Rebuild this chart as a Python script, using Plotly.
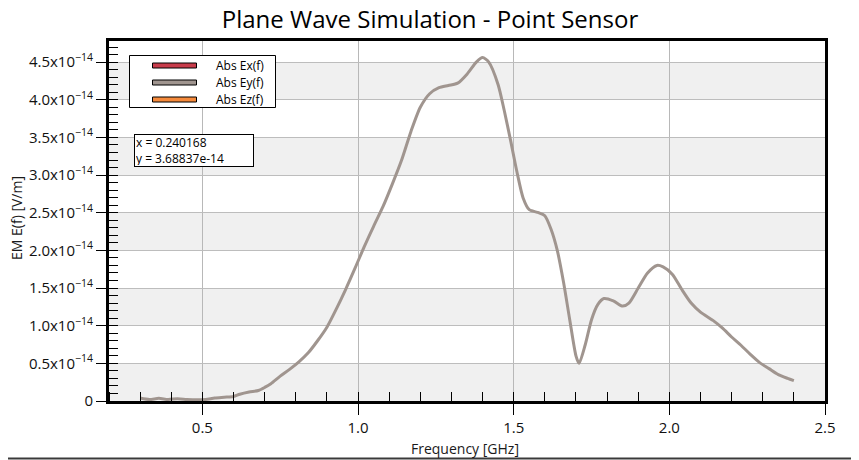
import plotly.graph_objects as go

# ---------------- data ----------------
freq_ghz = [0.30, 0.33, 0.36, 0.39, 0.42, 0.45, 0.48, 0.51, 0.54, 0.57,
            0.60, 0.62, 0.65, 0.68, 0.70, 0.72, 0.75, 0.78, 0.81, 0.84,
            0.87, 0.90, 0.93, 0.96, 0.99, 1.02, 1.05, 1.08, 1.11, 1.14,
            1.17, 1.20, 1.23, 1.26, 1.29, 1.32, 1.35, 1.38, 1.40, 1.42,
            1.45, 1.47, 1.49, 1.51, 1.53, 1.55, 1.58, 1.60, 1.62, 1.64,
            1.66, 1.68, 1.70, 1.71, 1.73, 1.75, 1.77, 1.79, 1.82, 1.85,
            1.87, 1.90, 1.93, 1.96, 1.98, 2.01, 2.04, 2.07, 2.10, 2.14,
            2.17, 2.20, 2.23, 2.26, 2.29, 2.32, 2.35, 2.38, 2.40]
# |Ey(f)| in units of 1e-14 V/m
abs_ey_e14 = [0.04, 0.02, 0.035, 0.02, 0.03, 0.02, 0.015, 0.02, 0.04, 0.05,
              0.06, 0.09, 0.12, 0.14, 0.18, 0.23, 0.33, 0.42, 0.52, 0.64,
              0.80, 0.98, 1.22, 1.48, 1.76, 2.05, 2.32, 2.58, 2.88, 3.20,
              3.58, 3.90, 4.08, 4.16, 4.19, 4.22, 4.34, 4.50, 4.56, 4.50,
              4.20, 3.85, 3.46, 3.05, 2.70, 2.54, 2.50, 2.46, 2.28, 2.00,
              1.58, 1.08, 0.60, 0.50, 0.75, 1.08, 1.28, 1.36, 1.33, 1.26,
              1.30, 1.50, 1.70, 1.80, 1.78, 1.68, 1.48, 1.30, 1.18, 1.07,
              0.97, 0.85, 0.74, 0.62, 0.51, 0.43, 0.35, 0.30, 0.27]
SCALE = 1e-14

series_names = ["Abs Ex(f)", "Abs Ey(f)", "Abs Ez(f)"]
series_colors = ["#c83c4b", "#a0958f", "#f58a3c"]

x_tick_vals = [0.5, 1.0, 1.5, 2.0, 2.5]
x_tick_text = ["0.5", "1.0", "1.5", "2.0", "2.5"]
y_tick_coef = [0, 0.5, 1.0, 1.5, 2.0, 2.5, 3.0, 3.5, 4.0, 4.5]
y_tick_text = ["0"] + [f"{c:.1f}x10<sup>\u221214</sup>" for c in y_tick_coef[1:]]

cursor_text = "x = 0.240168<br>y = 3.68837e-14"

# ---------------- layout geometry ----------------
W, H = 859, 460
OFF = 8  # page body margin offset of the plot div
# plot area in reference (window) pixels
L, R, T, B = 109, 825, 41, 401


def px(xp):
    return (xp - L) / (R - L)


def py(yp):
    return (B - yp) / (B - T)


FONT = "Open Sans"
ey = [v * SCALE for v in abs_ey_e14]

fig = go.Figure()
fig.add_trace(go.Scatter(
    x=freq_ghz, y=ey, mode="lines", name=series_names[1],
    line=dict(color=series_colors[1], width=3, shape="spline", smoothing=0.7),
    showlegend=False, hoverinfo="x+y",
))

shapes = []
# alternating grey bands
for k in range(5):
    shapes.append(dict(type="rect", xref="paper", yref="y", x0=0, x1=1,
                       y0=k * 1.0 * SCALE, y1=(k * 1.0 + 0.5) * SCALE,
                       fillcolor="#f0f0f0", line=dict(width=0), layer="below"))

# custom legend box
shapes.append(dict(type="rect", xref="paper", yref="paper",
                   x0=px(129.5), x1=px(275.5), y0=py(107.5), y1=py(55.5),
                   fillcolor="white", line=dict(color="black", width=1), layer="above"))
legend_rows = [65.5, 82.5, 99.5]
annotations = []
for name, col, yc in zip(series_names, series_colors, legend_rows):
    shapes.append(dict(type="rect", xref="paper", yref="paper",
                       x0=px(152.5), x1=px(196.5), y0=py(yc + 2.5), y1=py(yc - 2.5),
                       fillcolor=col, line=dict(color="black", width=1), layer="above"))
    annotations.append(dict(xref="paper", yref="paper", x=px(214), y=py(yc),
                            xanchor="left", yanchor="middle", showarrow=False,
                            text=name, font=dict(family=FONT, size=12, color="black")))

# bottom frame line of the image
shapes.append(dict(type="line", xref="paper", yref="paper",
                   x0=px(0), x1=px(W), y0=py(458.5), y1=py(458.5),
                   line=dict(color="#3a3a3a", width=2), layer="above"))

# cursor readout box
annotations.append(dict(xref="paper", yref="paper", x=px(133.5), y=py(133.5),
                        xanchor="left", yanchor="top", showarrow=False,
                        text=cursor_text, align="left", width=116, height=29,
                        bgcolor="white", bordercolor="black", borderwidth=1, borderpad=1,
                        font=dict(family=FONT, size=12, color="black")))
# axis titles
annotations.append(dict(xref="paper", yref="paper", x=px(465), y=py(448),
                        xanchor="center", yanchor="middle", showarrow=False,
                        text="Frequency [GHz]", font=dict(family=FONT, size=14, color="#1a1a1a")))
annotations.append(dict(xref="paper", yref="paper", x=px(16), y=py(218),
                        xanchor="center", yanchor="middle", showarrow=False, textangle=-90,
                        text="EM E(f) [V/m]", font=dict(family=FONT, size=14, color="#1a1a1a")))

fig.update_layout(
    width=W, height=H,
    margin=dict(l=L - OFF, r=W - (R - OFF), t=T - OFF, b=H - (B - OFF), pad=0),
    paper_bgcolor="white", plot_bgcolor="white",
    font=dict(family=FONT, size=15, color="#111111"),
    title=dict(text="Plane Wave Simulation - Point Sensor", x=(430 - OFF) / W, xref="container",
               xanchor="center", y=1 - (20 - OFF) / H, yref="container", yanchor="middle",
               font=dict(family=FONT, size=24, color="black")),
    shapes=shapes, annotations=annotations, showlegend=False,
)

fig.update_xaxes(
    range=[0.2, 2.5], tickmode="array", tickvals=x_tick_vals, ticktext=x_tick_text,
    ticks="outside", ticklen=11, tickwidth=1, tickcolor="black",
    showline=True, linewidth=3, linecolor="black", mirror=True,
    showgrid=True, gridcolor="#b8b8b8", gridwidth=1, zeroline=False,
    tickfont=dict(family=FONT, size=15, color="#111111"),
    minor=dict(tickmode="linear", tick0=0.2, dtick=0.1, ticks="inside", ticklen=9,
               tickwidth=1, tickcolor="black", showgrid=False),
)
fig.update_yaxes(
    range=[0, 4.78 * SCALE], tickmode="array",
    tickvals=[c * SCALE for c in y_tick_coef], ticktext=y_tick_text,
    ticks="outside", ticklen=10, tickwidth=1, tickcolor="black",
    showline=True, linewidth=3, linecolor="black", mirror=True,
    showgrid=True, gridcolor="#bdbdbd", gridwidth=1, zeroline=False,
    tickfont=dict(family=FONT, size=15, color="#111111"),
    minor=dict(tickmode="linear", tick0=0, dtick=0.1 * SCALE, ticks="inside", ticklen=9,
               tickwidth=1, tickcolor="black", showgrid=False),
)

fig.write_html("out.html")
